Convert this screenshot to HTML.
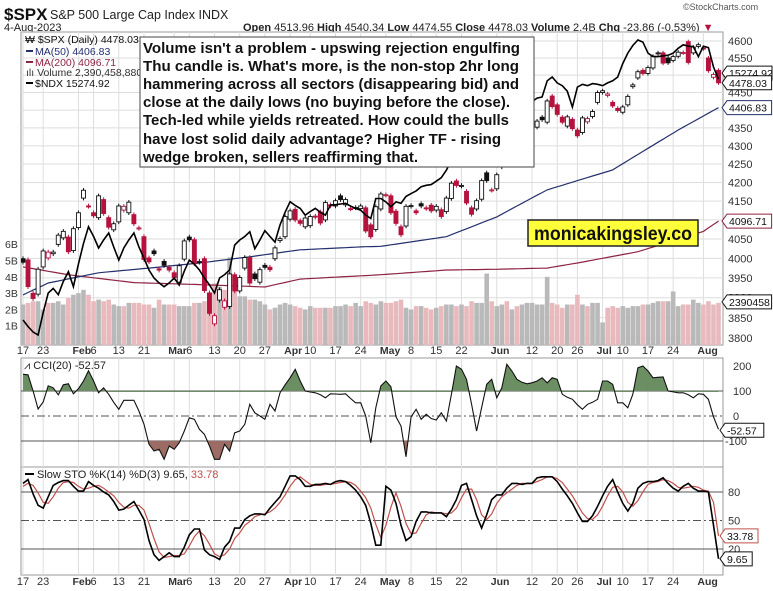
<!DOCTYPE html>
<html><head><meta charset="utf-8">
<style>
html,body{margin:0;padding:0;background:#fff;}
body{position:relative;}
svg{display:block;font-family:"Liberation Sans",Arial,sans-serif;}
</style></head>
<body>
<svg id="chart" width="773" height="591" viewBox="0 0 773 591" xmlns="http://www.w3.org/2000/svg">
<defs>
<clipPath id="mainClip"><rect x="21" y="32" width="702" height="313"/></clipPath>
<clipPath id="cciUp"><rect x="21" y="358" width="702" height="34"/></clipPath>
<clipPath id="cciDn"><rect x="21" y="441" width="702" height="26"/></clipPath>
</defs>
<rect x="0" y="0" width="773" height="591" fill="#fff"/>
<g id="hdr">
<text x="4" y="20" font-size="17" font-weight="bold" fill="#111">$SPX</text>
<text x="50" y="19" font-size="12.5" fill="#222">S&amp;P 500 Large Cap Index INDX</text>
<text x="4" y="31" font-size="11" fill="#222">4-Aug-2023</text>
<text x="243" y="31" font-size="11" fill="#222"><tspan font-weight="bold">Open</tspan> 4513.96 <tspan font-weight="bold">High</tspan> 4540.34 <tspan font-weight="bold">Low</tspan> 4474.55 <tspan font-weight="bold">Close</tspan> 4478.03 <tspan font-weight="bold">Volume</tspan> 2.4B <tspan font-weight="bold">Chg</tspan> -23.86 (-0.53%) <tspan fill="#b5123e">▼</tspan></text>
<text x="683" y="10" font-size="9" fill="#555">©StockCharts.com</text>
</g>
<g id="grid"></g>
<g id="main" clip-path="url(#mainClip)"></g>
<g id="osc"></g>
<g id="axes"></g>
</svg>
<script>
const closes=[3990,3928,3898,3972,4019,4016,4016,4060,4070,4017,4077,
4119,4179,4136,4111,4164,4117,4081,4090,4137,4136,4147,4090,4079,3997,3991,4012,3970,3982,3970,
3951,3981,4045,4048,3986,3992,3918,3861,3855,3920,3892,3960,3917,3951,4002,3937,3948,3971,3977,3971,4027,4051,4109,
4124,4100,4091,4105,4109,4108,4092,4146,4137,4151,4154,4154,4129,4133,4137,4071,4056,4135,4169,
4167,4119,4091,4061,4136,4138,4119,4137,4130,4124,4136,4109,4158,4198,4192,4192,4145,4115,4151,4205,4205,4180,
4221,4282,4273,4283,4268,4293,4299,4338,4369,4373,4426,4410,4388,4366,4381,4348,4328,4378,4376,4396,4450,
4455,4446,4412,4399,4409,4439,4472,4510,4505,4522,4555,4565,4535,4536,4554,4567,4566,4537,4582,4589,
4577,4513,4502,4478];
const opens=[3999,3996,3911,3909,3978,4001,4012,4036,4053,4055,4020,
4080,4158,4137,4119,4106,4154,4106,4074,4095,4126,4119,4114,4078,4056,4001,4019,3973,3992,3977,
3963,3939,3998,4055,4048,3990,3999,3912,3835,3894,3876,3878,3958,3917,3975,4002,3960,3939,3982,3977,3999,4046,4056,
4102,4128,4098,4082,4085,4110,4121,4100,4140,4137,4164,4140,4130,4132,4130,4132,4087,4075,4129,
4166,4164,4123,4082,4084,4136,4124,4143,4132,4139,4126,4127,4122,4157,4204,4190,4176,4132,4129,4155,4226,4179,
4183,4242,4272,4271,4268,4268,4304,4308,4352,4380,4366,4440,4415,4380,4355,4374,4344,4337,4367,4382,4422,
4450,4442,4422,4405,4394,4415,4467,4492,4514,4505,4521,4563,4565,4550,4543,4555,4565,4598,4565,4584,
4579,4550,4494,4514];
const volumes=[2.3,2.4,2.5,2.5,2.0,2.4,2.4,2.5,2.3,2.7,2.9,3.0,3.2,2.9,2.5,2.6,2.5,2.6,2.3,2.2,2.2,2.4,2.4,2.4,2.3,2.3,2.1,2.6,2.3,2.3,
2.3,2.2,2.2,2.2,2.4,2.4,2.5,2.9,3.6,3.4,3.2,5.2,3.4,2.8,2.8,2.6,2.6,2.5,2.3,2.0,2.1,2.3,2.4,2.3,2.2,2.1,2.0,2.2,2.1,2.1,
2.1,2.1,2.2,2.2,2.3,2.2,2.4,2.2,2.5,2.4,2.3,2.5,2.4,2.4,2.5,2.6,2.1,2.0,2.2,2.2,2.1,2.0,2.1,2.2,2.3,2.3,2.2,2.3,2.2,2.5,
2.4,2.4,4.2,2.5,2.2,2.3,2.5,2.0,2.2,2.3,2.4,2.4,2.3,2.3,4.0,2.4,2.3,2.1,2.3,2.3,2.9,2.3,2.2,2.4,2.4,1.2,2.1,2.2,2.1,2.2,
2.1,2.2,2.2,2.3,2.3,2.4,2.5,2.5,2.5,3.1,2.2,2.3,2.3,2.6,2.4,2.3,2.5,2.3,2.4];
const ndx=[11794,11700,11620,11577,11900,12184,12250,12160,12350,12492,12275,12600,12900,13142,13000,12834,12950,13051,12850,12660,
12834,12950,13051,12850,12685,12516,12400,12330,12275,12330,12400,12300,12500,12660,12600,12516,12400,12300,12184,12400,
12450,12516,12877,12950,13000,13070,12824,12950,13085,13000,12920,13166,13350,13503,13450,13407,13310,13360,13407,13350,
13310,13455,13460,13470,13480,13440,13407,13380,13310,13260,13550,13550,13500,13430,13500,13480,13580,13620,13660,13720,
13740,13750,13800,13850,13960,14100,14300,14200,14250,14250,14300,14450,14550,14600,14550,14600,14600,14700,14800,14830,
14900,14950,15000,15016,15250,15305,15220,15180,15100,14870,15160,15200,15180,15210,15200,15180,15220,15250,15305,15500,
15650,15760,15840,15810,15650,15600,15600,15610,15620,15650,15720,15770,15750,15745,15600,15750,15730,15450,15275];
const ma50Idx=[0,5,15,25,35,45,55,68,71,84,94,104,117,130,138];
const ma50Val=[3907,3937,3963,3975,3988,4004,4022,4030,4031,4056,4108,4180,4234,4344,4407];
const ma200Idx=[0,9,22,35,48,55,71,84,94,104,110,122,135,138];
const ma200Val=[3978,3958,3938,3933,3927,3947,3958,3970,3972,3975,3988,4017,4070,4097];
const cci=[167,165,100,28,56,121,113,85,125,129,89,109,140,181,140,93,113,87,55,27,63,63,63,20,-33,-113,-140,-133,-173,-120,
-133,-107,-60,-7,-13,-53,-73,-120,-173,-173,-113,-140,-67,-60,-33,47,13,0,-13,47,20,93,125,153,187,140,100,96,93,85,
73,89,88,87,89,70,53,53,0,-107,33,120,140,117,-3,-40,-163,-3,27,-13,7,-10,-16,13,-20,87,200,187,147,47,
-60,33,127,147,73,113,207,180,147,135,129,133,140,153,133,153,147,87,75,67,45,27,47,55,67,140,140,127,53,53,
33,87,193,200,180,153,155,156,100,97,93,93,85,73,89,87,67,-3,-53];
const stoK=[89,93,78,66,63,75,87,90,92,92,86,81,81,91,87,84,80,77,70,61,62,66,70,61,51,29,14,8,12,16,12,12,22,35,41,41,19,14,12,9,
22,28,42,42,51,55,57,57,56,63,69,75,86,97,97,93,86,86,88,88,89,88,91,92,91,87,82,75,66,47,24,24,86,82,68,45,29,33,49,59,
59,58,58,58,54,62,72,87,89,72,55,42,56,72,77,77,84,89,89,88,89,89,95,96,96,96,91,83,76,68,58,49,49,55,65,76,86,93,80,68,
60,68,84,89,91,91,92,95,89,84,81,86,89,84,81,81,80,45,9.65];
const stoD=[86,89,87,79,69,68,75,84,90,91,90,86,83,84,86,87,84,80,76,69,64,63,66,66,61,47,31,17,11,12,13,13,15,23,33,39,34,25,15,12,
14,20,31,37,45,49,54,56,57,59,63,69,77,86,93,96,92,88,87,87,88,88,89,90,91,90,87,81,74,63,46,32,45,64,79,65,47,36,37,47,
56,59,58,58,57,58,63,74,83,83,72,56,51,57,68,75,79,83,87,89,89,89,91,93,96,96,94,90,83,76,67,58,52,51,56,65,76,85,86,80,
69,65,71,80,88,90,91,93,92,89,85,84,85,86,85,82,81,69,33.78];
const priceTicks=[4600,4550,4500,4450,4400,4350,4300,4250,4200,4150,4100,4050,4000,3950,3900,3850,3800];
const volTicks=[1,2,3,4,5,6];
const dateIdx=[0,4,11,14,19,24,30,33,38,43,48,53,57,62,67,72,77,82,87,94,101,106,110,115,119,124,129,135];
const dateLbl=["17","23","Feb","6","13","21","Mar","6","13","20","27","Apr","10","17","24","May","8","15","22","Jun","12","20","26","Jul","10","17","24","Aug"];
const cciTicks=[200,100,0,-100];
const stoTicks=[80,50,20];

const NS="http://www.w3.org/2000/svg";
const X0=21,X1=723;
function xOf(i){return 23+5.04*i;}
function pY(p){return 41+1555*Math.log(4600/p);}
function vY(v){return 342-16.3*v;}
function nY(v){return 40+(15840-v)*0.0692;}
function cY(v){return 416-0.25*v;}
function sY(v){return 568-0.95*v;}
function el(tag,parent){const e=document.createElementNS(NS,tag);parent.appendChild(e);return e;}
function interp(idx,val,i){for(let k=0;k<idx.length-1;k++){if(i>=idx[k]&&i<=idx[k+1]){const t=(i-idx[k])/(idx[k+1]-idx[k]);return val[k]+t*(val[k+1]-val[k]);}}return val[val.length-1];}
function linePath(arr,yf){return arr.map((v,i)=>(i?'L':'M')+xOf(i).toFixed(1)+' '+yf(v).toFixed(1)).join(' ');}

const grid=document.getElementById('grid');
const main=document.getElementById('main');
const osc=document.getElementById('osc');
const axes=document.getElementById('axes');

[[32,345],[358,467],[467,575]].forEach((r,k)=>{
  const b=el('rect',grid);
  b.setAttribute('x',X0);b.setAttribute('y',r[0]);b.setAttribute('width',X1-X0);b.setAttribute('height',r[1]-r[0]);
  b.setAttribute('fill','#fff');b.setAttribute('stroke','#9a9a9a');
  
  
});
dateIdx.forEach((d,k)=>{
  [[32,345],[358,575]].forEach(r=>{
    const l=el('line',grid);
    l.setAttribute('x1',xOf(d));l.setAttribute('x2',xOf(d));l.setAttribute('y1',r[0]);l.setAttribute('y2',r[1]);
    l.setAttribute('stroke','#dedede');
    
    
  });
});
priceTicks.forEach(p=>{
  const l=el('line',grid);
  l.setAttribute('x1',X0);l.setAttribute('x2',X1);l.setAttribute('y1',pY(p));l.setAttribute('y2',pY(p));
  l.setAttribute('stroke','#dedede');
  
  
  const t=el('text',axes);
  t.setAttribute('x',728);t.setAttribute('y',pY(p)+4);t.setAttribute('font-size','11');t.setAttribute('fill','#333');
  t.textContent=p;
  
  
});
volTicks.forEach(v=>{
  const t=el('text',axes);
  t.setAttribute('x',5);t.setAttribute('y',vY(v)+4);t.setAttribute('font-size','10.5');t.setAttribute('fill','#333');
  t.textContent=v+'B';
  
  
});
[354,585].forEach((yy,row)=>{
  dateIdx.forEach((d,k)=>{
    const t=el('text',axes);
    const isM=isNaN(+dateLbl[k]);
    t.setAttribute('x',xOf(d)+(isM?-6:0));t.setAttribute('y',yy);t.setAttribute('font-size',isM?'10.5':'11');
    t.setAttribute('text-anchor',isM?'start':'middle');
    if(isM)t.setAttribute('font-weight','bold');
    t.setAttribute('fill','#333');
    t.textContent=dateLbl[k];
    
    
  });
});
volumes.forEach((v,i)=>{
  const down=i>0&&closes[i]<closes[i-1];
  const r=el('rect',main);
  r.setAttribute('x',xOf(i)-2.3);r.setAttribute('width',4.6);r.setAttribute('y',vY(v));r.setAttribute('height',345-vY(v));
  r.setAttribute('fill',down?'#e8b9bd':'#b9b9b9');
  
  
});
function maPath(idx,val){let d='';for(let i=0;i<closes.length;i++){d+=(i?'L':'M')+xOf(i).toFixed(1)+' '+pY(interp(idx,val,i)).toFixed(1);}return d;}
const m200=el('path',main);m200.setAttribute('d',maPath(ma200Idx,ma200Val));m200.setAttribute('fill','none');m200.setAttribute('stroke','#8e2442');m200.setAttribute('stroke-width','1.2');


const m50=el('path',main);m50.setAttribute('d',maPath(ma50Idx,ma50Val));m50.setAttribute('fill','none');m50.setAttribute('stroke','#25306e');m50.setAttribute('stroke-width','1.2');


closes.forEach((c,i)=>{
  const o=opens[i];
  const red=i>0&&c<closes[i-1];
  const col=red?'#b5123e':'#111';
  const x=xOf(i);
  const hi=Math.max(o,c)+6,lo=Math.min(o,c)-6;
  const w=el('line',main);
  w.setAttribute('x1',x);w.setAttribute('x2',x);w.setAttribute('y1',pY(hi));w.setAttribute('y2',pY(lo));w.setAttribute('stroke',col);
  
  
  const b=el('rect',main);
  const yt=pY(Math.max(o,c)),yb=pY(Math.min(o,c));
  b.setAttribute('x',x-2);b.setAttribute('width',4);b.setAttribute('y',yt);b.setAttribute('height',Math.max(1,yb-yt));
  b.setAttribute('fill',c<o?col:'#fff');b.setAttribute('stroke',col);b.setAttribute('stroke-width','0.9');
  
  
});
const nl=el('path',main);nl.setAttribute('d',linePath(ndx,nY));nl.setAttribute('fill','none');nl.setAttribute('stroke','#000');nl.setAttribute('stroke-width','1.6');



[[100,'solid'],[0,'dash'],[-100,'solid']].forEach(a=>{
  const l=el('line',osc);
  l.setAttribute('x1',X0);l.setAttribute('x2',X1);l.setAttribute('y1',cY(a[0]));l.setAttribute('y2',cY(a[0]));
  l.setAttribute('stroke','#555');if(a[1]==='dash')l.setAttribute('stroke-dasharray','8,3,2,3');
  
  
});
cciTicks.forEach(v=>{
  const t=el('text',axes);
  t.setAttribute('x',v<0?725:733);t.setAttribute('y',cY(v)+4);t.setAttribute('font-size','11');t.setAttribute('fill','#333');
  t.textContent=v;
  
  
});
const cciLine=linePath(cci,cY);
const areaUp=el('path',osc);
areaUp.setAttribute('d',cciLine+' L'+xOf(cci.length-1)+' '+cY(100)+' L'+xOf(0)+' '+cY(100)+' Z');
areaUp.setAttribute('fill','#6b8f62');areaUp.setAttribute('clip-path','url(#cciUp)');


const areaDn=el('path',osc);
areaDn.setAttribute('d',cciLine+' L'+xOf(cci.length-1)+' '+cY(-100)+' L'+xOf(0)+' '+cY(-100)+' Z');
areaDn.setAttribute('fill','#9c6b63');areaDn.setAttribute('clip-path','url(#cciDn)');


const cl=el('path',osc);cl.setAttribute('d',cciLine);cl.setAttribute('fill','none');cl.setAttribute('stroke','#111');cl.setAttribute('stroke-width','1.1');



[[80,'solid'],[50,'dash'],[20,'solid']].forEach(a=>{
  const l=el('line',osc);
  l.setAttribute('x1',X0);l.setAttribute('x2',X1);l.setAttribute('y1',sY(a[0]));l.setAttribute('y2',sY(a[0]));
  l.setAttribute('stroke','#555');if(a[1]==='dash')l.setAttribute('stroke-dasharray','8,3,2,3');
  
  
});
stoTicks.forEach(v=>{
  const t=el('text',axes);
  t.setAttribute('x',728);t.setAttribute('y',sY(v)+4);t.setAttribute('font-size','11');t.setAttribute('fill','#333');
  t.textContent=v;
  
  
});
const dl=el('path',osc);dl.setAttribute('d',linePath(stoD,sY));dl.setAttribute('fill','none');dl.setAttribute('stroke','#c0504d');dl.setAttribute('stroke-width','1.2');


const kl=el('path',osc);kl.setAttribute('d',linePath(stoK,sY));kl.setAttribute('fill','none');kl.setAttribute('stroke','#000');kl.setAttribute('stroke-width','1.6');



function tag(y,txt,col,name,x){
  const g=el('g',axes);
  const w=Math.min(txt.length*5.8+4,767-x);
  const p=el('path',g);
  p.setAttribute('d',`M${x} ${y} L${x+5} ${y-7} L${x+5+w} ${y-7} L${x+5+w} ${y+7} L${x+5} ${y+7} Z`);
  p.setAttribute('fill','#fff');p.setAttribute('stroke',col);
  const t=el('text',g);
  t.setAttribute('x',x+7);t.setAttribute('y',y+4);t.setAttribute('font-size','10.5');t.setAttribute('fill','#111');
  t.textContent=txt;
  
  
}
tag(nY(ndx[ndx.length-1])-6,'15274.92','#111','ndx-value-tag',722);
tag(pY(closes[closes.length-1]),'4478.03','#111','close-value-tag',722);
tag(pY(ma50Val[ma50Val.length-1]),'4406.83','#25306e','ma50-value-tag',722);
tag(pY(ma200Val[ma200Val.length-1]),'4096.71','#8e2442','ma200-value-tag',722);
tag(vY(volumes[volumes.length-1])-1,'2390458','#111','volume-value-tag',722);
tag(cY(cci[cci.length-1])+1,'-52.57','#111','cci-value-tag',720);
tag(sY(stoD[stoD.length-1]),'33.78','#c0504d','stoch-d-value-tag',720);
tag(sY(stoK[stoK.length-1]),'9.65','#111','stoch-k-value-tag',720);
</script>
<svg style="position:absolute;left:0;top:0" width="773" height="591">
<g font-family="Liberation Sans, Arial, sans-serif" font-size="10.5">
<text x="25" y="43" fill="#111">₩ $SPX (Daily) 4478.03</text>
<line x1="26" y1="51" x2="33" y2="51" stroke="#25306e" stroke-width="2"/>
<text x="35" y="55" fill="#25306e">MA(50) 4406.83</text>
<line x1="26" y1="62" x2="33" y2="62" stroke="#8e2442" stroke-width="2"/>
<text x="35" y="66" fill="#8e2442">MA(200) 4096.71</text>
<text x="26" y="76" fill="#333">ılı Volume 2,390,458,880</text>
<line x1="26" y1="83" x2="33" y2="83" stroke="#000" stroke-width="2"/>
<text x="35" y="87" fill="#111">$NDX 15274.92</text>
</g>
<g>
<rect x="140" y="37" width="394" height="130" fill="#fff" stroke="#444" stroke-width="1"/>
<g font-family="Liberation Sans, Arial, sans-serif" font-size="14.5" font-weight="bold" fill="#111">
<text x="143" y="53" textLength="377" lengthAdjust="spacingAndGlyphs">Volume isn't a problem - upswing rejection engulfing</text>
<text x="143" y="71" textLength="376" lengthAdjust="spacingAndGlyphs">Thu candle is. What's more, is the  non-stop 2hr long</text>
<text x="143" y="89" textLength="376" lengthAdjust="spacingAndGlyphs">hammering across all sectors (disappearing bid) and</text>
<text x="143" y="107" textLength="367" lengthAdjust="spacingAndGlyphs">close at the daily lows (no buying before the close).</text>
<text x="143" y="125" textLength="366" lengthAdjust="spacingAndGlyphs">Tech-led while yields retreated. How could the bulls</text>
<text x="143" y="144" textLength="358" lengthAdjust="spacingAndGlyphs">have lost solid daily advantage? Higher TF - rising</text>
<text x="143" y="162" textLength="275" lengthAdjust="spacingAndGlyphs">wedge broken, sellers reaffirming that.</text>
</g>
</g>
<g>
<rect x="528" y="220" width="170" height="26" fill="#ffff3a" stroke="#222" stroke-width="1.5"/>
<text x="613" y="240" text-anchor="middle" font-family="Liberation Sans, Arial, sans-serif" font-size="19" font-weight="bold" fill="#111" textLength="158" lengthAdjust="spacingAndGlyphs">monicakingsley.co</text>
</g>
<g font-family="Liberation Sans, Arial, sans-serif" font-size="11" fill="#222">
<text x="24" y="369">⩘ CCI(20) -52.57</text>
<line x1="25" y1="474" x2="34" y2="474" stroke="#000" stroke-width="2"/>
<text x="37" y="478">Slow STO %K(14) %D(3) 9.65, <tspan fill="#c0504d">33.78</tspan></text>
</g>
</svg>
</body></html>
